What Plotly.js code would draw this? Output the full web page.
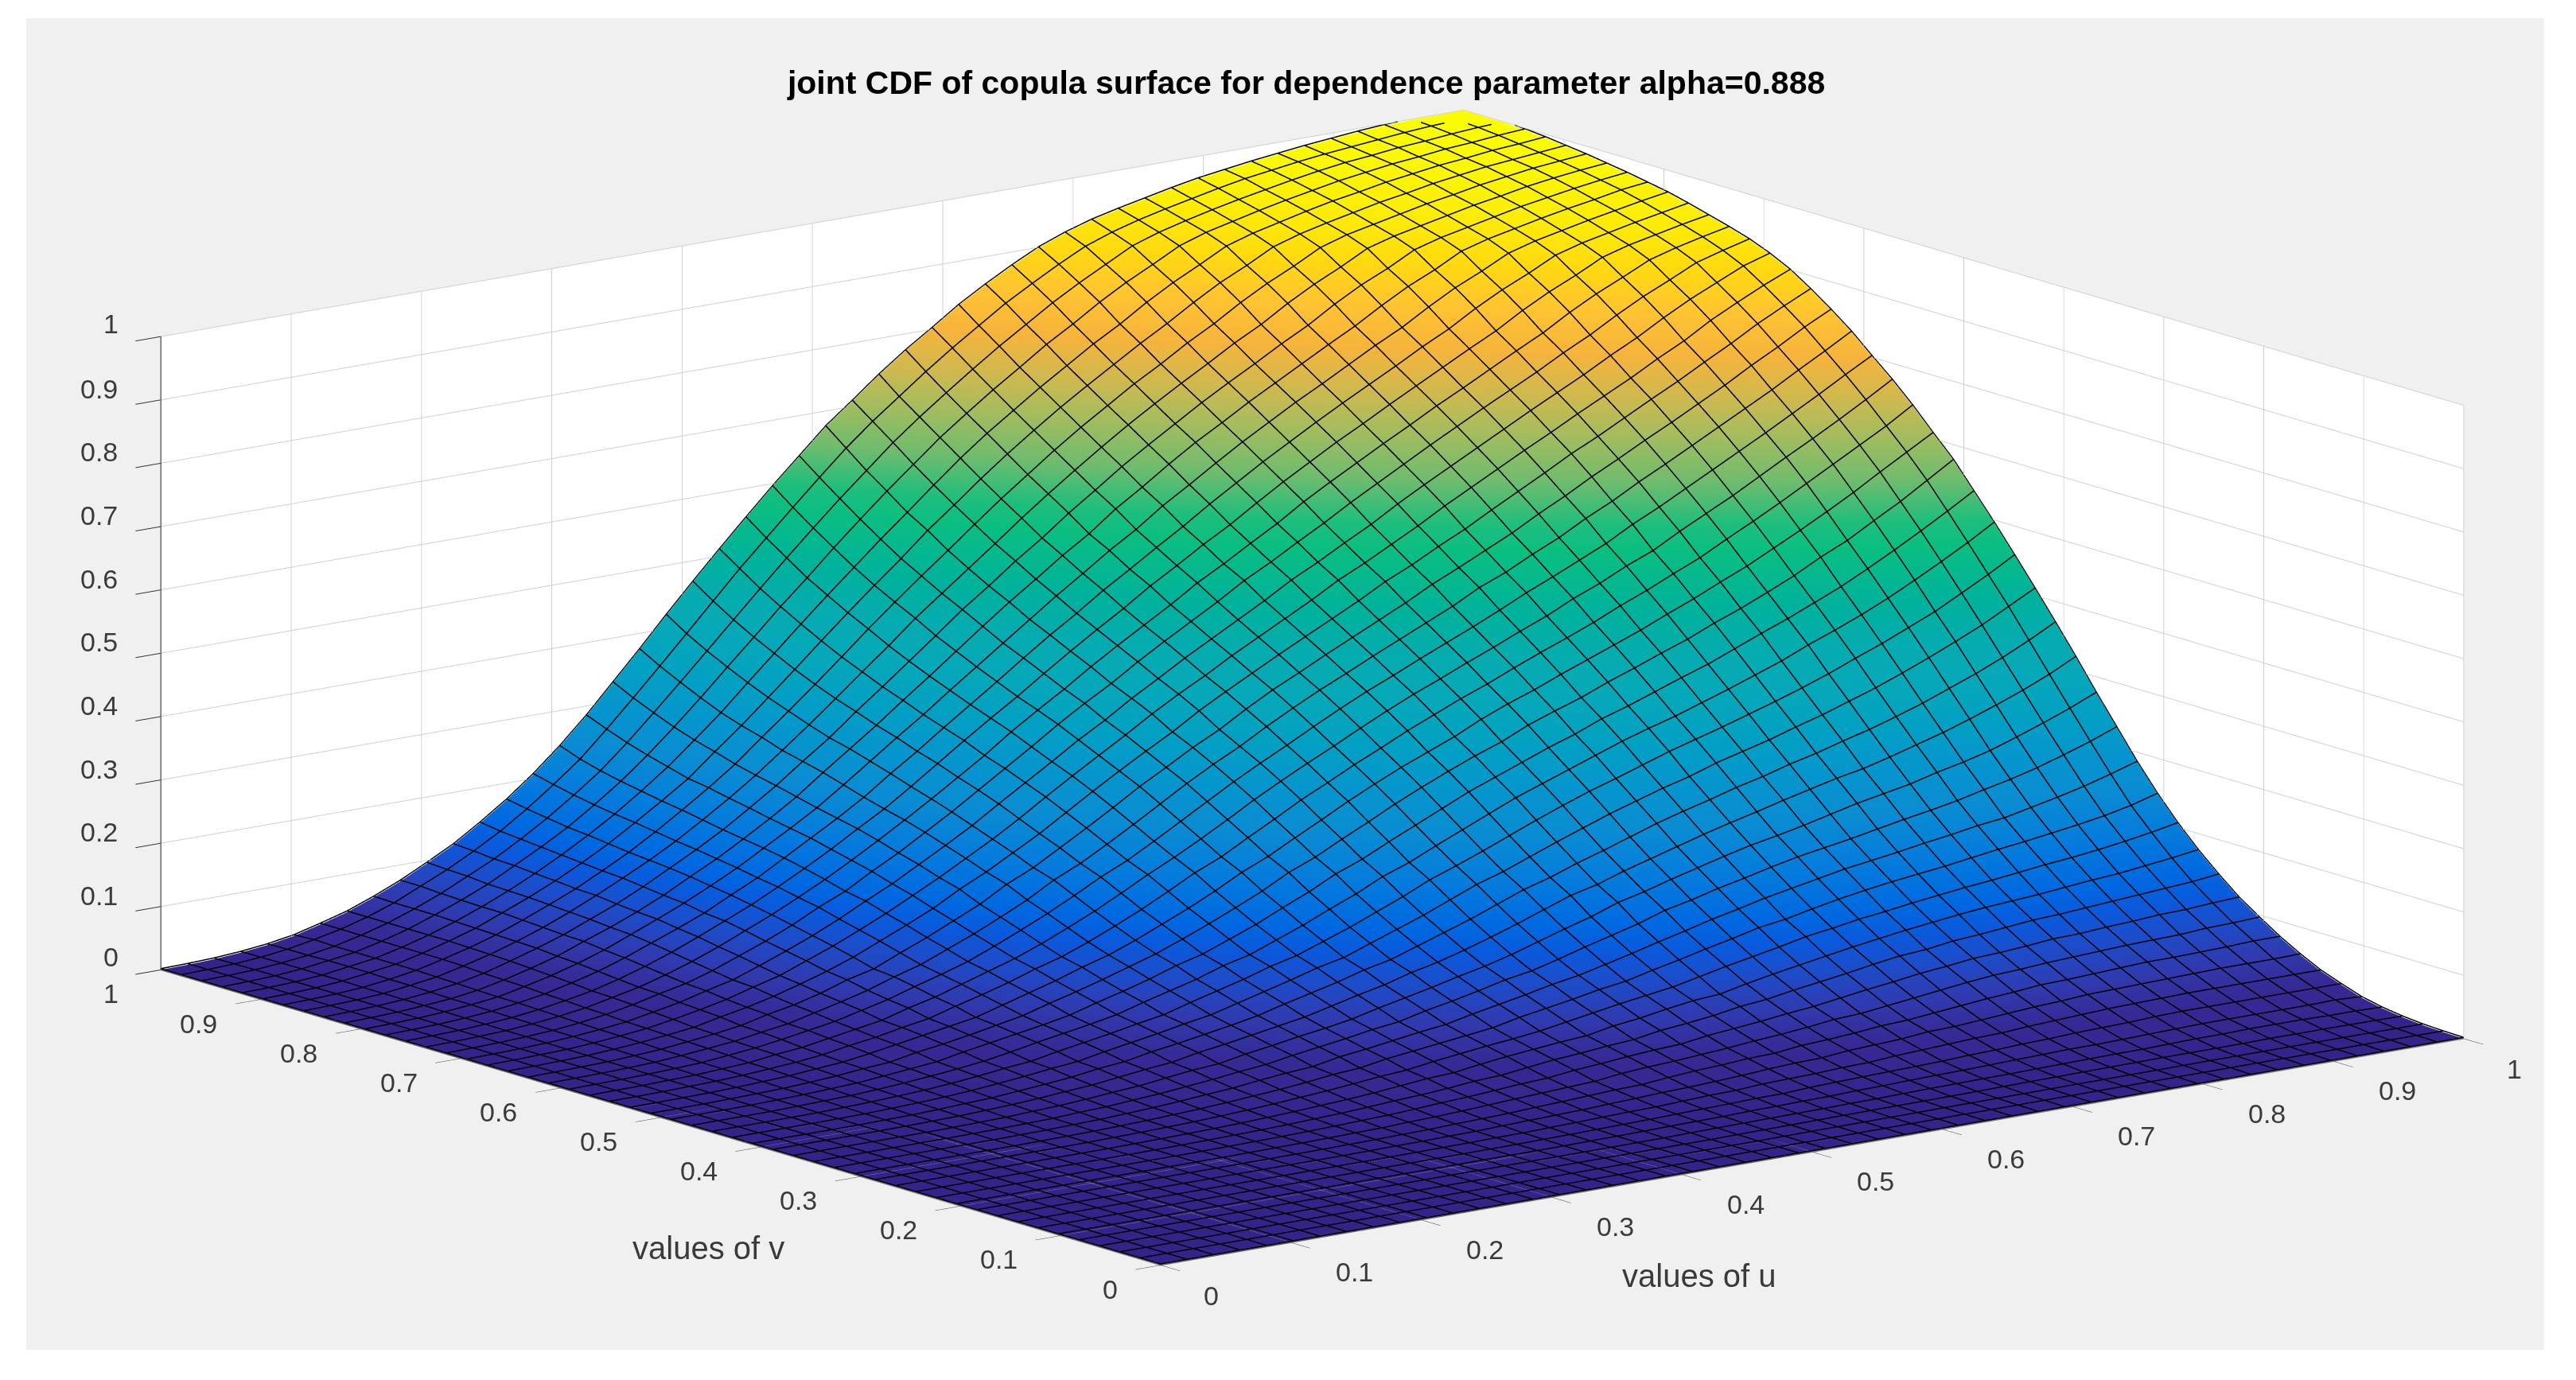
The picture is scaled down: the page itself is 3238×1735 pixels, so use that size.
<!DOCTYPE html>
<html><head><meta charset="utf-8">
<script src="https://cdn.plot.ly/plotly-3.0.1.min.js"></script>
<style>html,body{margin:0;padding:0;background:#fff;width:3238px;height:1735px;overflow:hidden}
#plot{position:absolute;left:33px;top:23px;width:3165px;height:1674px}</style></head>
<body><div id="plot"></div>
<script>
var titleText='joint CDF of copula surface for dependence parameter alpha=0.888';
var uLabel='values of u', vLabel='values of v';
var gridValues=[0,.0204,.0408,.0612,.0816,.102,.1224,.1429,.1633,.1837,.2041,.2245,.2449,.2653,.2857,.3061,.3265,.3469,.3673,.3878,.4082,.4286,.449,.4694,.4898,.5102,.5306,.551,.5714,.5918,.6122,.6327,.6531,.6735,.6939,.7143,.7347,.7551,.7755,.7959,.8163,.8367,.8571,.8776,.898,.9184,.9388,.9592,.9796,1];
var tickValues=[0,0.1,0.2,0.3,0.4,0.5,0.6,0.7,0.8,0.9,1];
var tickLabels=['0','0.1','0.2','0.3','0.4','0.5','0.6','0.7','0.8','0.9','1'];
// The surface is symmetric in u and v. Values read per anti-diagonal, counted in grid steps back from the peak corner (u=1,v=1):
// zBySum[steps in u + steps in v], from the diagonal outward; entries past the end of a row are zero.
var zBySum=[
[1],[.999],[.999,.999],[.997,.997],[.994,.994,.994],[.99,.99,.99],[.987,.987,.986,.986],[.982,.982,.982,.981],
[.978,.978,.978,.977,.976],[.972,.972,.972,.971,.97],[.966,.966,.966,.965,.965,.964],[.958,.958,.958,.957,.957,.956],
[.951,.951,.951,.95,.949,.948,.947],[.942,.942,.942,.941,.94,.939,.938],[.933,.933,.933,.932,.931,.93,.929,.928],
[.924,.924,.923,.922,.921,.919,.917,.915],[.912,.912,.911,.91,.909,.907,.905,.902,.899],[.89,.89,.889,.888,.887,.885,.883,.881,.878],
[.871,.871,.87,.869,.868,.866,.864,.861,.858,.855],[.848,.848,.847,.846,.844,.842,.84,.837,.834,.83],
[.823,.823,.822,.821,.82,.818,.815,.813,.81,.806,.801],[.802,.801,.8,.799,.797,.794,.791,.788,.783,.778,.773],
[.779,.779,.778,.776,.774,.771,.768,.764,.759,.754,.748,.742],[.757,.756,.755,.753,.75,.747,.742,.737,.731,.724,.716,.708],
[.735,.735,.734,.732,.729,.725,.72,.715,.708,.701,.693,.684,.675],[.712,.712,.71,.707,.703,.699,.693,.686,.679,.67,.66,.649,.635],
[.69,.69,.688,.686,.683,.677,.671,.664,.656,.647,.635,.623,.61,.595],[.667,.666,.664,.66,.656,.65,.642,.633,.624,.612,.6,.586,.57,.553],
[.644,.644,.642,.638,.633,.627,.62,.612,.602,.59,.576,.563,.547,.529,.51],[.621,.62,.616,.612,.607,.6,.591,.581,.569,.557,.541,.525,.507,.488,.466],
[.596,.596,.593,.589,.584,.577,.568,.559,.548,.535,.52,.504,.485,.466,.444,.421],[.574,.573,.569,.565,.558,.551,.541,.53,.516,.502,.485,.467,.447,.424,.4,.374],
[.552,.551,.549,.544,.539,.531,.522,.511,.498,.484,.468,.449,.429,.406,.382,.356,.329],[.532,.53,.527,.521,.514,.505,.494,.482,.468,.452,.433,.412,.39,.366,.34,.313,.284],
[.509,.508,.505,.501,.494,.486,.476,.464,.451,.434,.416,.396,.374,.351,.325,.299,.271,.243],[.488,.486,.482,.477,.469,.46,.449,.434,.419,.401,.382,.36,.337,.311,.286,.259,.231,.206],
[.468,.467,.464,.459,.453,.444,.433,.42,.404,.387,.368,.347,.325,.3,.275,.249,.222,.198,.173],[.448,.446,.442,.436,.428,.418,.405,.39,.374,.356,.336,.313,.291,.266,.24,.215,.191,.167,.144],
[.428,.427,.424,.418,.411,.401,.39,.376,.361,.343,.324,.302,.28,.256,.231,.209,.185,.162,.139,.117],[.409,.407,.402,.396,.387,.377,.364,.349,.332,.314,.294,.272,.248,.226,.203,.18,.157,.136,.115,.095],
[.389,.388,.384,.379,.372,.36,.351,.337,.321,.302,.284,.264,.241,.219,.198,.176,.154,.133,.112,.093,.074],[.368,.366,.359,.353,.346,.336,.323,.307,.292,.274,.254,.233,.213,.192,.171,.15,.13,.111,.092,.074,.056],
[.347,.346,.342,.338,.33,.321,.309,.296,.28,.263,.244,.225,.206,.186,.166,.146,.127,.108,.089,.072,.055,.04],[.327,.325,.321,.314,.306,.296,.283,.269,.253,.235,.218,.2,.181,.162,.143,.124,.106,.088,.071,.055,.04,.028],
[.306,.306,.303,.298,.291,.281,.27,.257,.242,.227,.211,.194,.176,.157,.14,.122,.103,.087,.07,.055,.04,.028,.017],[.286,.284,.279,.273,.265,.255,.243,.23,.217,.202,.186,.17,.152,.136,.118,.102,.085,.07,.054,.04,.028,.019,.01],
[.264,.263,.26,.255,.248,.24,.229,.218,.206,.192,.178,.163,.146,.131,.114,.098,.083,.068,.053,.04,.028,.018,.011,.0053],[.243,.241,.237,.231,.224,.216,.206,.195,.183,.17,.155,.141,.126,.111,.095,.081,.066,.052,.04,.028,.018,.011,.0057,.0023],
[.222,.221,.218,.215,.208,.201,.192,.183,.172,.16,.146,.134,.12,.105,.093,.078,.064,.051,.039,.028,.018,.012,.006,.0024,.0008],[.205,.203,.2,.195,.189,.182,.173,.163,.151,.14,.128,.114,.102,.088,.076,.063,.05,.038,.028,.018,.012,.0063,.0026,.0009,0],
[.184,.183,.181,.178,.173,.167,.158,.149,.14,.13,.119,.107,.096,.084,.072,.059,.047,.037,.027,.018,.012,.006,.0027,.001,.0001],[.166,.164,.161,.157,.152,.146,.138,.13,.121,.111,.1,.089,.078,.067,.056,.045,.035,.025,.017,.011,.0063,.0027,.001,.0002],
[.148,.147,.146,.143,.138,.133,.127,.119,.111,.103,.093,.083,.073,.062,.052,.042,.033,.024,.016,.011,.0056,.0027,.001,.0002],[.132,.131,.129,.125,.12,.115,.109,.102,.094,.085,.077,.067,.057,.048,.039,.031,.023,.015,.01,.0055,.0027,.001,.0003],
[.117,.116,.115,.113,.109,.104,.099,.092,.085,.076,.07,.061,.052,.044,.036,.028,.021,.014,.009,.0055,.0027,.001,.0003],[.107,.106,.104,.1,.097,.092,.086,.079,.073,.066,.057,.05,.042,.035,.027,.02,.014,.009,.0055,.0027,.0011,.0004],
[.095,.094,.092,.09,.087,.083,.078,.073,.067,.059,.052,.045,.038,.031,.025,.018,.013,.0083,.0051,.0025,.0011,.0004],[.084,.083,.081,.078,.075,.071,.066,.06,.054,.048,.041,.035,.029,.023,.017,.012,.0078,.0048,.0024,.001,.0004],
[.074,.073,.072,.07,.067,.064,.059,.055,.05,.044,.038,.033,.027,.021,.015,.011,.0073,.0045,.0023,.001,.0004],[.063,.062,.06,.058,.055,.052,.047,.043,.038,.034,.028,.023,.018,.014,.01,.0065,.004,.0021,.0009,.0003],
[.056,.055,.055,.053,.05,.047,.044,.04,.036,.031,.027,.022,.017,.013,.0095,.0063,.0039,.0021,.0009,.0003],[.049,.048,.047,.045,.043,.04,.036,.033,.028,.024,.02,.015,.012,.0086,.0057,.0035,.0019,.0008,.0003],
[.042,.042,.041,.04,.038,.036,.033,.029,.026,.022,.017,.014,.011,.0075,.0053,.0029,.0017,.0008,.0003],[.036,.036,.035,.033,.031,.028,.026,.023,.019,.015,.013,.0097,.007,.0047,.0027,.0017,.0007,.0003],
[.029,.028,.028,.027,.025,.023,.021,.018,.015,.013,.0104,.0075,.0055,.0039,.0024,.0014,.0006,.0001],[.025,.025,.024,.023,.021,.019,.016,.014,.012,.0096,.0073,.0052,.0036,.0023,.0014,.0006,.0001],
[.021,.02,.02,.019,.017,.016,.014,.012,.01,.0079,.006,.0044,.0028,.002,.0011,.0006],[.016,.016,.015,.014,.013,.012,.01,.0084,.0062,.0052,.004,.0026,.0018,.001,.0005],
[.013,.013,.012,.012,.011,.0097,.0082,.0066,.0055,.0044,.0029,.0022,.0015,.0008,.0004],[.01,.0097,.0092,.0084,.0076,.0062,.0055,.0046,.0033,.0025,.0018,.0011,.0006,.0003],
[.0075,.0073,.007,.0062,.0057,.005,.0045,.0035,.0027,.0021,.0015,.0009,.0005,.0001],[.0055,.0054,.005,.0046,.004,.0033,.0026,.002,.0015,.001,.0005,.0002],
[.0038,.0037,.0035,.003,.0025,.002,.0016,.0012,.0008,.0004,.0001],[.0026,.0025,.0023,.002,.0016,.0013,.001,.0006,.0003,.0001],
[.0018,.0017,.0015,.0012,.0009,.0007,.0004,.0002],[.0011,.001,.0009,.0007,.0005,.0003,.0001],[.0007,.0006,.0005,.0003,.0002],[.0003,.0002,.0001]];
var last=gridValues.length-1;
var zValues=gridValues.map(function(v,r){return gridValues.map(function(u,c){
  var a=last-r,b=last-c,n=a+b;
  if(a===last||b===last||n>=zBySum.length)return 0;
  return zBySum[n][(Math.abs(a-b)-n%2)/2]||0;});});
var colorStops=[[0,'rgb(53,35,140)'],[.03,'rgb(54,42,150)'],[.06,'rgb(48,58,175)'],[.09,'rgb(30,75,200)'],[.12,'rgb(10,90,220)'],[.15,'rgb(0,105,225)'],[.2,'rgb(5,125,220)'],[.25,'rgb(10,140,210)'],[.3,'rgb(5,150,205)'],[.35,'rgb(2,160,195)'],[.4,'rgb(5,168,185)'],[.45,'rgb(5,172,175)'],[.5,'rgb(0,178,155)'],[.57,'rgb(10,190,130)'],[.6,'rgb(30,190,125)'],[.65,'rgb(110,188,110)'],[.7,'rgb(160,188,95)'],[.75,'rgb(205,185,80)'],[.8,'rgb(245,180,60)'],[.85,'rgb(255,195,50)'],[.9,'rgb(255,218,15)'],[.95,'rgb(252,238,5)'],[1,'rgb(250,252,0)']];
function axis(){return {title:{text:''},range:[0,1],tickvals:tickValues,showticklabels:false,ticks:'outside',ticklen:40,tickwidth:2,tickcolor:'#333',
 showline:true,linecolor:'#666',linewidth:3,showgrid:true,gridcolor:'#cfcfcf',gridwidth:2,zeroline:false,
 showbackground:true,backgroundcolor:'#ffffff',showspikes:false,autorange:false};}
var tickFont={size:34,color:'#3a3a3a',family:'Liberation Sans'}, axisFont={size:40,color:'#3a3a3a',family:'Liberation Sans'};
function note(t,x,y,z,dx,dy,f){return {text:t,x:x,y:y,z:z,xshift:dx,yshift:-dy,showarrow:false,xanchor:'center',yanchor:'middle',font:f};}
var notes=[];
tickValues.forEach(function(v,i){
  var single=tickLabels[i].length===1;
  notes.push(note(tickLabels[i],v,0,0,single?64:80,single?38:37,tickFont));
  notes.push(note(tickLabels[i],0,v,0,single?-63:-78,30,tickFont));
  notes.push(note(tickLabels[i],0,1,v,single?-63:-78,single?-16:-14,tickFont));
});
notes.push(note(uLabel,0.5,0,0,-142,156,axisFont));
notes.push(note(vLabel,0,0.5,0,60,164,axisFont));
var surfaceTrace={type:'surface',x:gridValues,y:gridValues,z:zValues,cmin:0,cmax:1,colorscale:colorStops,showscale:false,hoverinfo:'skip',
 lighting:{ambient:1,diffuse:0,specular:0,fresnel:0,roughness:1}};
var mx=[],my=[],mz=[],lift=0.002;
gridValues.forEach(function(fixed,k){
  gridValues.forEach(function(g,n){mx.push(g);my.push(fixed);mz.push(zValues[k][n]+lift);});mx.push(null);my.push(null);mz.push(null);
  gridValues.forEach(function(g,n){mx.push(fixed);my.push(g);mz.push(zValues[n][k]+lift);});mx.push(null);my.push(null);mz.push(null);
});
var meshTrace={type:'scatter3d',mode:'lines',x:mx,y:my,z:mz,line:{color:'#000',width:3},hoverinfo:'skip',showlegend:false};
var zAxisTrace={type:'scatter3d',mode:'lines',x:[0,0],y:[1,1],z:[tickValues[0],tickValues[10]],line:{color:'#808080',width:4},hoverinfo:'skip',showlegend:false};
var layout={width:3165,height:1674,paper_bgcolor:'#f0f0f0',margin:{l:0,r:0,t:0,b:0},showlegend:false,
 title:{text:titleText,font:{size:41,color:'#000',family:'Liberation Sans',weight:'bold'},x:0.5084,xref:'paper',y:0.9516,yref:'paper',xanchor:'center',yanchor:'middle'},
 scene:{domain:{x:[0.0215,1],y:[0,0.9946]},aspectmode:'manual',aspectratio:{x:2.48,y:2.48,z:0.982},
  camera:{projection:{type:'orthographic'},center:{x:0,y:0,z:0},up:{x:0,y:0,z:1},eye:{x:-1.779,y:-2.319,z:0.68}},
  xaxis:axis(),yaxis:axis(),zaxis:axis(),annotations:notes}};
Plotly.newPlot('plot',[surfaceTrace,meshTrace,zAxisTrace],layout,{displayModeBar:false});
</script></body></html>
